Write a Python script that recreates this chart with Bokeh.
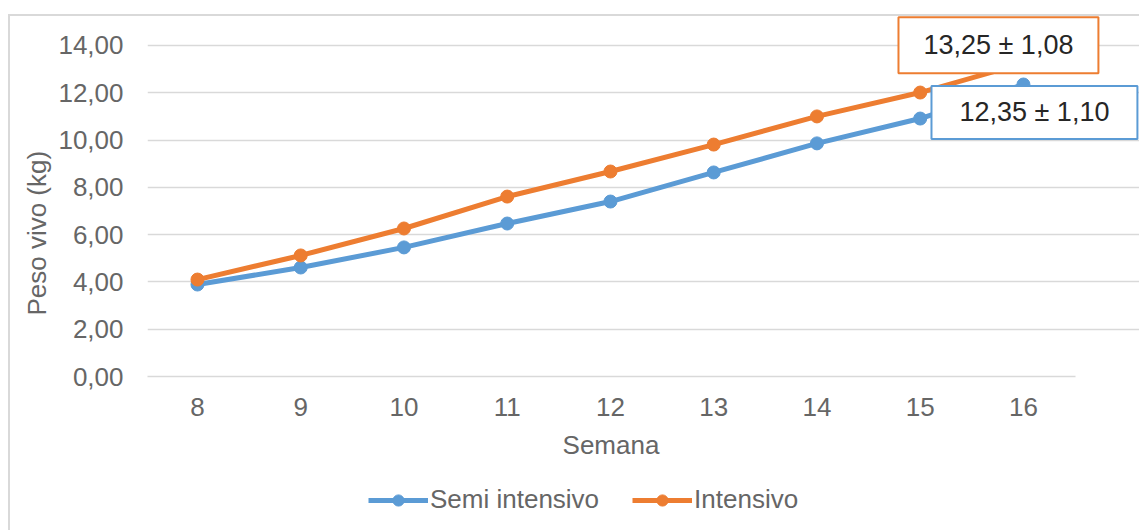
from bokeh.plotting import figure
from bokeh.layouts import column
from bokeh.models import Label, Legend, LegendItem, FixedTicker, InlineStyleSheet
from bokeh.embed import file_html
from bokeh.resources import INLINE

semanas = [8, 9, 10, 11, 12, 13, 14, 15, 16]
semi_intensivo = [3.89, 4.61, 5.46, 6.47, 7.40, 8.63, 9.86, 10.91, 12.35]
intensivo = [4.10, 5.12, 6.26, 7.61, 8.67, 9.81, 11.00, 12.01, 13.25]
y_ticks = [0, 2, 4, 6, 8, 10, 12, 14]
y_tick_labels = ["0,00", "2,00", "4,00", "6,00", "8,00", "10,00", "12,00", "14,00"]
x_ticks = [8, 9, 10, 11, 12, 13, 14, 15, 16]
sd_semi = "1,10"
sd_int = "1,08"
mean_semi = "12,35"
mean_int = "13,25"

BLUE = "#5B9BD5"
ORANGE = "#ED7D31"
GRID = "#d9d9d9"
TXT = "#666666"
FONT = "Liberation Sans"
FS = "26px"
NB = "\u00a0"

X0, X1 = 7.516, 16.5      # plot area extent (x)
p = figure(width=1139, height=470, output_backend="svg", toolbar_location=None,
           x_range=(X0, 17.124), y_range=(0, 15.48),
           min_border_left=147, min_border_right=0, min_border_top=10, min_border_bottom=94)
p.outline_line_color = None
p.background_fill_color = "white"
p.border_fill_color = "white"
p.stylesheets = [InlineStyleSheet(css=(
    ":host{position:relative;}"
    ":host::after{content:'';position:absolute;left:8px;top:14px;"
    "width:calc(100% - 8px);height:calc(100% - 14px);box-sizing:border-box;"
    "border-left:2px solid #d9d9d9;border-top:2px solid #d9d9d9;pointer-events:none;z-index:5;}"))]

p.xgrid.grid_line_color = None
p.ygrid.grid_line_color = GRID
p.ygrid.grid_line_width = 1.5
p.ygrid.ticker = FixedTicker(ticks=y_ticks)
p.ygrid.bounds = (X0, X1)

p.yaxis.ticker = FixedTicker(ticks=y_ticks)
p.yaxis.major_label_overrides = {t: l for t, l in zip(y_ticks, y_tick_labels)}
p.xaxis.ticker = FixedTicker(ticks=x_ticks)
p.xaxis.bounds = (X0, X1)
for ax in (p.xaxis, p.yaxis):
    ax.major_tick_line_color = None
    ax.minor_tick_line_color = None
    ax.major_tick_out = 0
    ax.major_tick_in = 0
    ax.major_label_text_font = FONT
    ax.major_label_text_font_size = FS
    ax.major_label_text_color = TXT
    ax.axis_label_text_font = FONT
    ax.axis_label_text_font_size = FS
    ax.axis_label_text_color = TXT
    ax.axis_label_text_font_style = "normal"
p.yaxis.axis_line_color = None
p.xaxis.axis_line_color = GRID
p.xaxis.axis_line_width = 1.5
p.yaxis.major_label_standoff = 24
p.xaxis.major_label_standoff = 21
p.xaxis.axis_label = "Semana" + NB * 9
p.yaxis.axis_label = "Peso vivo (kg)" + NB * 11
p.xaxis.axis_label_standoff = 11
p.yaxis.axis_label_standoff = 3

p.line(semanas, semi_intensivo, line_color=BLUE, line_width=5)
p.scatter(semanas, semi_intensivo, size=13, fill_color=BLUE, line_color=BLUE)
p.line(semanas, intensivo, line_color=ORANGE, line_width=5)
p.scatter(semanas, intensivo, size=13, fill_color=ORANGE, line_color=ORANGE)

# padding order: (left, right, top, bottom)
lab_int = Label(x=semanas[-1], y=intensivo[-1], text=f"{mean_int} ± {sd_int}",
                x_offset=-25, y_offset=18, text_align="center", text_baseline="middle",
                text_font=FONT, text_font_size="27px", text_color="#262626",
                background_fill_color="white", border_line_color=ORANGE, border_line_width=2,
                padding=(25, 25, 13, 13))
lab_semi = Label(x=semanas[-1], y=semi_intensivo[-1], text=f"{mean_semi} ± {sd_semi}",
                 x_offset=11, y_offset=-28, text_align="center", text_baseline="middle",
                 text_font=FONT, text_font_size="27px", text_color="#262626",
                 background_fill_color="white", border_line_color=BLUE, border_line_width=2,
                 padding=(28, 28, 11, 12))
p.add_layout(lab_int)
p.add_layout(lab_semi)

# legend strip below the chart (same series, drawn outside its visible range)
q = figure(width=1139, height=60, output_backend="svg", toolbar_location=None,
           x_range=(100, 101), y_range=(100, 101),
           x_axis_location=None, y_axis_location=None,
           min_border_left=0, min_border_right=0, min_border_top=0, min_border_bottom=0)
q.outline_line_color = None
q.grid.visible = False
q.stylesheets = [InlineStyleSheet(css=(
    ":host{position:relative;}"
    ":host::after{content:'';position:absolute;left:8px;top:0;width:2px;height:100%;"
    "background:#d9d9d9;pointer-events:none;z-index:5;}"))]
ql1 = q.line(semanas, semi_intensivo, line_color=BLUE, line_width=5)
qc1 = q.scatter(semanas, semi_intensivo, size=11, fill_color=BLUE, line_color=BLUE)
ql2 = q.line(semanas, intensivo, line_color=ORANGE, line_width=5)
qc2 = q.scatter(semanas, intensivo, size=11, fill_color=ORANGE, line_color=ORANGE)
legend = Legend(items=[LegendItem(label="Semi intensivo", renderers=[ql1, qc1]),
                       LegendItem(label="Intensivo", renderers=[ql2, qc2])],
                orientation="horizontal", location=(221, 15),
                label_text_font=FONT, label_text_font_size=FS, label_text_color=TXT,
                glyph_width=60, glyph_height=28, label_standoff=2, spacing=33,
                padding=0, margin=0, border_line_color=None, background_fill_alpha=0)
q.add_layout(legend, "center")

open("out.html", "w").write(file_html(column(p, q, spacing=0), INLINE))
